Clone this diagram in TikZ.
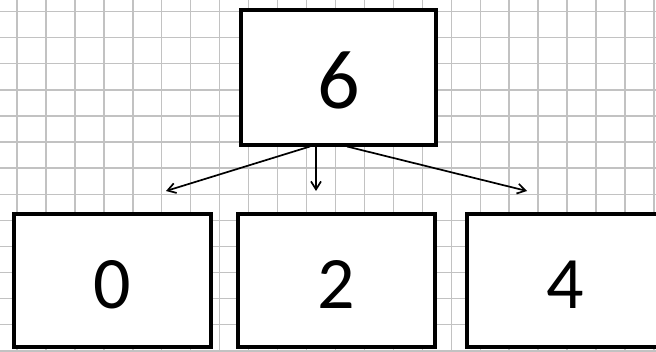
\documentclass[tikz,border=0pt]{standalone}
\usepackage{fontspec}
\setmainfont{Carlito}
\usetikzlibrary{arrows.meta}
\begin{document}
\begin{tikzpicture}[x=1pt,y=-1pt,
  gridline/.style={draw=black!24,line width=1.4pt},
  boxnode/.style={draw=black,fill=white,line width=4pt,rectangle,inner sep=0pt},
  topfont/.style={font=\fontsize{84}{90}\selectfont,text height=70pt,text depth=8pt},
  botfont/.style={font=\fontsize{74}{80}\selectfont,text height=62pt,text depth=5.5pt},
  arr/.style={line width=1.7pt,-{Straight Barb[length=8pt,width=10pt]}}]
\useasboundingbox (0,0) rectangle (656,351);
\clip (0,0) rectangle (656,351);
\fill[white] (0,0) rectangle (656,351);
\foreach \k in {0,...,22} {\draw[gridline] ({17+28.95*\k},0) -- ({17+28.95*\k},351);}
\foreach \k in {0,...,13} {\draw[gridline] (0,{11.5+26.1*\k}) -- (656,{11.5+26.1*\k});}
\node[boxnode,topfont,minimum width=195pt,minimum height=135pt] (top) at (338.5,77) {6};
\node[boxnode,botfont,minimum width=197pt,minimum height=133pt] (b0) at (112.2,280.3) {0};
\node[boxnode,botfont,minimum width=197pt,minimum height=133pt] (b2) at (336.2,280.3) {2};
\node[boxnode,botfont,minimum width=197pt,minimum height=133pt] (b4) at (565.5,280.3) {4};
\coordinate (e0) at (166,191);
\coordinate (e2) at (316,191);
\coordinate (e4) at (527,191);
\draw[arr] ([xshift=-28.5pt]top.south) -- (e0);
\draw[arr] ([xshift=-22.5pt]top.south) -- (e2);
\draw[arr] ([xshift=8.5pt]top.south) -- (e4);
\end{tikzpicture}
\end{document}
